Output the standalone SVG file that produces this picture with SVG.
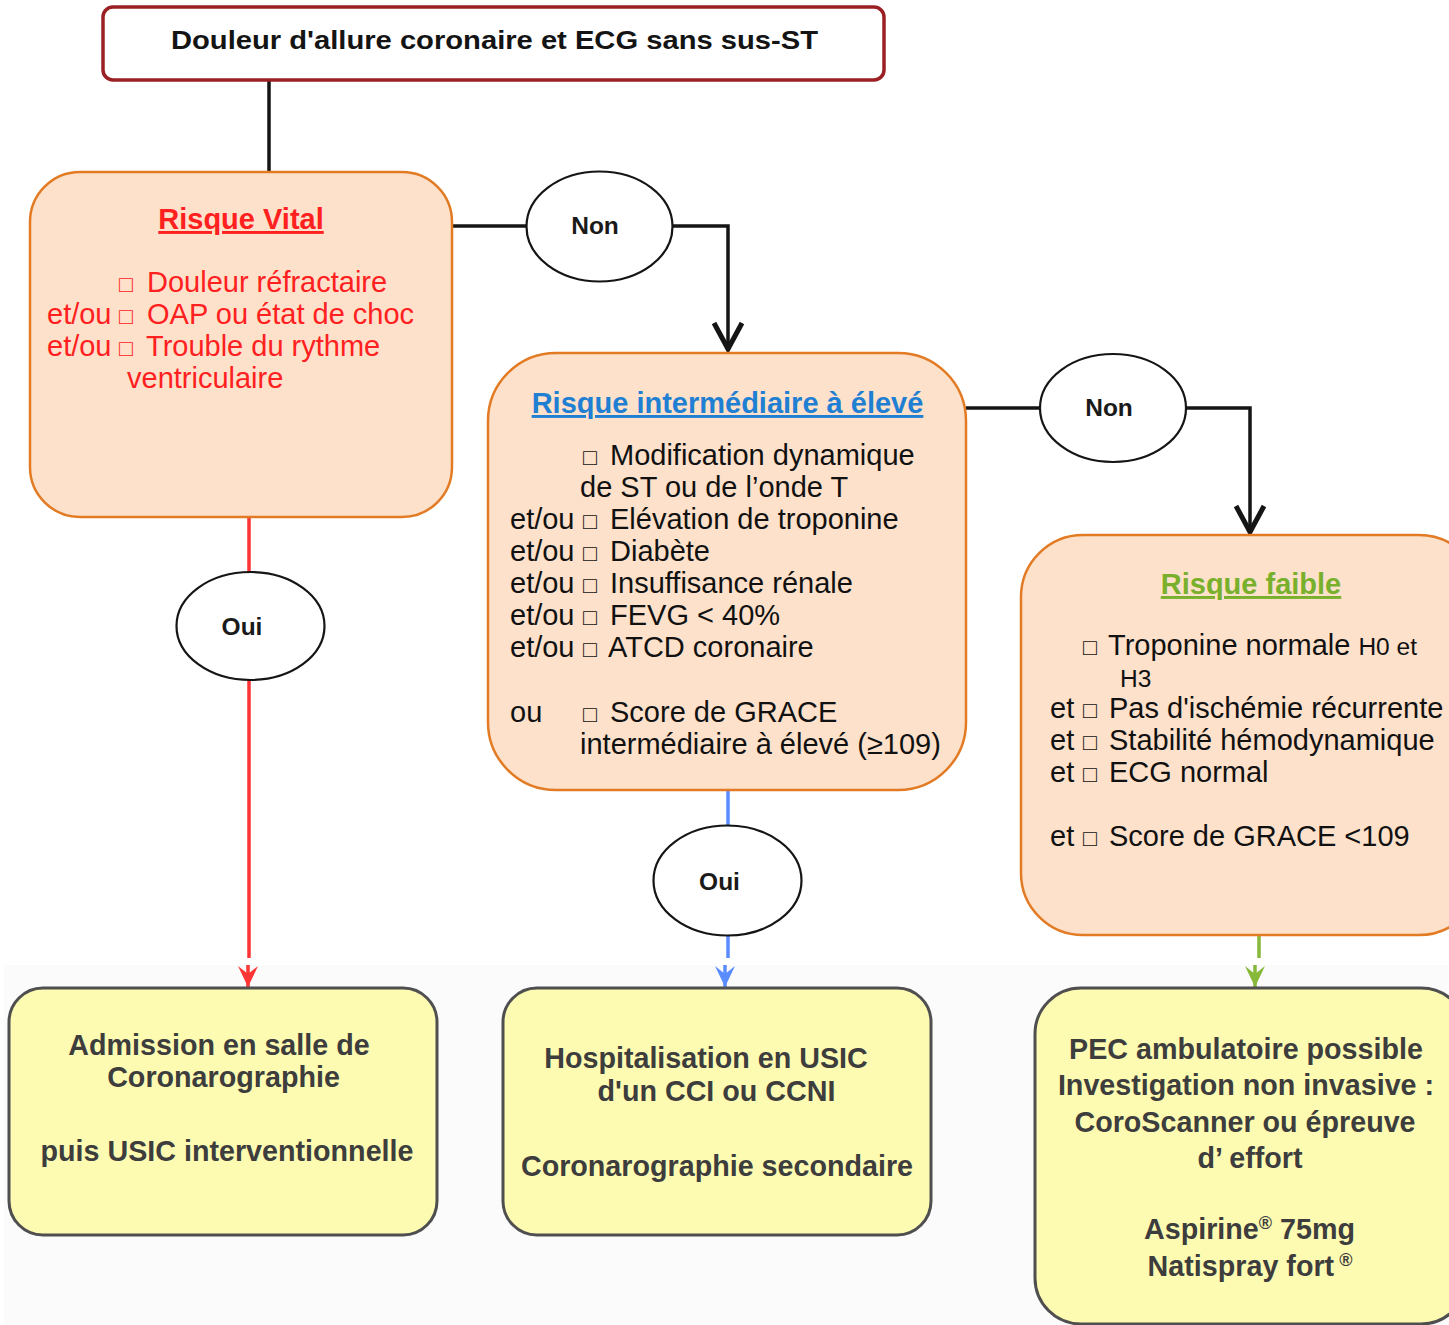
<svg xmlns="http://www.w3.org/2000/svg" width="1449" height="1325" viewBox="0 0 1449 1325">
  <style>
    text { font-family: "Liberation Sans", Arial, sans-serif; }
    .peach { fill: #fde1cb; stroke: #e27b24; stroke-width: 2.5; }
    .yellow { fill: #fdfbb2; stroke: #4f4f4f; stroke-width: 3; }
    .oval { fill: #ffffff; stroke: #151515; stroke-width: 2.2; }
    .title { font-size: 29px; font-weight: bold; text-anchor: middle; text-decoration: underline; }
    .body { font-size: 29px; }
    .sq { font-size: 23px; }
    .small { font-size: 24.5px; }
    .lab { font-size: 24.5px; font-weight: bold; text-anchor: middle; fill: #1a1a1a; }
    .out { font-size: 28.7px; font-weight: bold; text-anchor: middle; fill: #3d3d3d; }
    .red { fill: #ff2020; }
    .dark { fill: #111111; }
    .k { fill: none; stroke: #151515; stroke-width: 3.5; }
    .rl { fill: none; stroke: #ff3535; stroke-width: 3.5; }
    .bl { fill: none; stroke: #5a8cff; stroke-width: 3.5; }
    .gl { fill: none; stroke: #86b83a; stroke-width: 3.5; }
  </style>
  <defs>
    <!-- open chevron for the "Non" branches -->
    <marker id="chev" viewBox="-32 -18 36 36" markerWidth="36" markerHeight="36" refX="0" refY="0" orient="auto" markerUnits="userSpaceOnUse">
      <path d="M-26,-14 L0,0 L-26,14" fill="none" stroke="#151515" stroke-width="5" stroke-linejoin="miter"/>
    </marker>
    <!-- barbed heads for the "Oui" branches -->
    <marker id="barbR" viewBox="-24 -12 26 24" markerWidth="26" markerHeight="24" refX="0" refY="0" orient="auto" markerUnits="userSpaceOnUse">
      <path d="M0,0 L-21,-10 L-13,0 L-21,10 Z" fill="#ff3535"/>
    </marker>
    <marker id="barbB" viewBox="-24 -12 26 24" markerWidth="26" markerHeight="24" refX="0" refY="0" orient="auto" markerUnits="userSpaceOnUse">
      <path d="M0,0 L-21,-10 L-13,0 L-21,10 Z" fill="#5a8cff"/>
    </marker>
    <marker id="barbG" viewBox="-24 -12 26 24" markerWidth="26" markerHeight="24" refX="0" refY="0" orient="auto" markerUnits="userSpaceOnUse">
      <path d="M0,0 L-21,-10 L-13,0 L-21,10 Z" fill="#86b83a"/>
    </marker>
  </defs>

  <rect x="0" y="0" width="1449" height="1325" fill="#ffffff"/>
  <rect x="4" y="965" width="1445" height="360" fill="#fbfbfb"/>

  <g id="connectors">
    <!-- top to vital risk -->
    <path class="k" d="M269,80 V172"/>
    <!-- vital risk -> Non -> intermediate -->
    <path class="k" d="M452,226 H527"/>
    <path class="k" d="M672,226 H728 V349" marker-end="url(#chev)"/>
    <!-- intermediate -> Non -> low -->
    <path class="k" d="M966,408 H1040"/>
    <path class="k" d="M1186,408 H1250 V532" marker-end="url(#chev)"/>
    <!-- vital risk -> Oui -> cath lab -->
    <path class="rl" d="M249,518 V572"/>
    <path class="rl" d="M249,680 V958"/>
    <path class="rl" d="M248,965 V987" marker-end="url(#barbR)"/>
    <!-- intermediate -> Oui -> USIC -->
    <path class="bl" d="M728,791 V826"/>
    <path class="bl" d="M728,936 V958"/>
    <path class="bl" d="M725,965 V987" marker-end="url(#barbB)"/>
    <!-- low risk -> outpatient -->
    <path class="gl" d="M1259,936 V958"/>
    <path class="gl" d="M1255,965 V987" marker-end="url(#barbG)"/>
  </g>

  <g id="start">
    <rect x="103" y="7" width="781" height="73" rx="10" fill="#ffffff" stroke="#9a2024" stroke-width="3.5"/>
    <text x="494.5" y="49" font-size="26.5" font-weight="bold" text-anchor="middle" fill="#141414" textLength="647" lengthAdjust="spacingAndGlyphs">Douleur d'allure coronaire et ECG sans sus-ST</text>
  </g>

  <g id="risque-vital">
    <rect class="peach" x="30" y="172" width="422" height="345" rx="50"/>
    <text class="title red" x="241" y="229">Risque Vital</text>
    <text class="body red" y="292"><tspan class="sq" x="119">□</tspan><tspan x="147">Douleur réfractaire</tspan></text>
    <text class="body red" y="324"><tspan x="47">et/ou</tspan><tspan class="sq" x="119">□</tspan><tspan x="147">OAP ou état de choc</tspan></text>
    <text class="body red" y="356"><tspan x="47">et/ou</tspan><tspan class="sq" x="119">□</tspan><tspan x="146">Trouble du rythme</tspan></text>
    <text class="body red" x="127" y="388">ventriculaire</text>
  </g>

  <g id="non-1">
    <ellipse class="oval" cx="599.5" cy="226.5" rx="73" ry="55"/>
    <text class="lab" x="595" y="234">Non</text>
  </g>

  <g id="risque-intermediaire">
    <rect class="peach" x="488" y="353" width="478" height="437" rx="68"/>
    <text class="title" x="727.5" y="413" fill="#1f7fd2">Risque intermédiaire à élevé</text>
    <text class="body dark" y="465"><tspan class="sq" x="583">□</tspan><tspan x="610">Modification dynamique</tspan></text>
    <text class="body dark" x="580" y="497">de ST ou de l’onde T</text>
    <text class="body dark" y="529"><tspan x="510">et/ou</tspan><tspan class="sq" x="583">□</tspan><tspan x="610">Elévation de troponine</tspan></text>
    <text class="body dark" y="561"><tspan x="510">et/ou</tspan><tspan class="sq" x="583">□</tspan><tspan x="610">Diabète</tspan></text>
    <text class="body dark" y="593"><tspan x="510">et/ou</tspan><tspan class="sq" x="583">□</tspan><tspan x="610">Insuffisance rénale</tspan></text>
    <text class="body dark" y="625"><tspan x="510">et/ou</tspan><tspan class="sq" x="583">□</tspan><tspan x="610">FEVG &lt; 40%</tspan></text>
    <text class="body dark" y="657"><tspan x="510">et/ou</tspan><tspan class="sq" x="583">□</tspan><tspan x="608">ATCD coronaire</tspan></text>
    <text class="body dark" y="722"><tspan x="510">ou</tspan><tspan class="sq" x="583">□</tspan><tspan x="610">Score de GRACE</tspan></text>
    <text class="body dark" x="580" y="754">intermédiaire à élevé (≥109)</text>
  </g>

  <g id="non-2">
    <ellipse class="oval" cx="1113" cy="408" rx="73" ry="54"/>
    <text class="lab" x="1109" y="416">Non</text>
  </g>

  <g id="risque-faible">
    <rect class="peach" x="1021" y="535" width="460" height="400" rx="62"/>
    <text class="title" x="1251" y="594" fill="#78b02c">Risque faible</text>
    <text class="body dark" y="655"><tspan class="sq" x="1083">□</tspan><tspan x="1108">Troponine normale </tspan><tspan class="small">H0 et</tspan></text>
    <text class="small dark" x="1120" y="687">H3</text>
    <text class="body dark" y="718"><tspan x="1050">et</tspan><tspan class="sq" x="1083">□</tspan><tspan x="1109">Pas d'ischémie récurrente</tspan></text>
    <text class="body dark" y="750"><tspan x="1050">et</tspan><tspan class="sq" x="1083">□</tspan><tspan x="1109">Stabilité hémodynamique</tspan></text>
    <text class="body dark" y="782"><tspan x="1050">et</tspan><tspan class="sq" x="1083">□</tspan><tspan x="1109">ECG normal</tspan></text>
    <text class="body dark" y="846"><tspan x="1050">et</tspan><tspan class="sq" x="1083">□</tspan><tspan x="1109">Score de GRACE &lt;109</tspan></text>
  </g>

  <g id="oui-1">
    <ellipse class="oval" cx="250.5" cy="626" rx="74" ry="54"/>
    <text class="lab" x="242" y="635">Oui</text>
  </g>

  <g id="oui-2">
    <ellipse class="oval" cx="727.5" cy="880.5" rx="74" ry="55"/>
    <text class="lab" x="719.5" y="890">Oui</text>
  </g>

  <g id="coronarographie">
    <rect class="yellow" x="9" y="988" width="428" height="247" rx="34"/>
    <text class="out" x="219" y="1055">Admission en salle de</text>
    <text class="out" x="223.5" y="1087">Coronarographie</text>
    <text class="out" x="227" y="1161">puis USIC interventionnelle</text>
  </g>

  <g id="hospitalisation">
    <rect class="yellow" x="503" y="988" width="428" height="247" rx="34"/>
    <text class="out" x="706" y="1068">Hospitalisation en USIC</text>
    <text class="out" x="716.5" y="1101">d'un CCI ou CCNI</text>
    <text class="out" x="717" y="1176">Coronarographie secondaire</text>
  </g>

  <g id="ambulatoire">
    <rect class="yellow" x="1035" y="988" width="432" height="336" rx="46"/>
    <text class="out" x="1246" y="1059">PEC ambulatoire possible</text>
    <text class="out" x="1246" y="1095">Investigation non invasive :</text>
    <text class="out" x="1245" y="1132">CoroScanner ou épreuve</text>
    <text class="out" x="1250" y="1168">d’ effort</text>
    <text class="out" x="1249.5" y="1239">Aspirine<tspan font-size="18" dy="-10">®</tspan><tspan dy="10"> 75mg</tspan></text>
    <text class="out" x="1250" y="1276">Natispray fort<tspan font-size="18" dy="-10"> ®</tspan></text>
  </g>
</svg>
